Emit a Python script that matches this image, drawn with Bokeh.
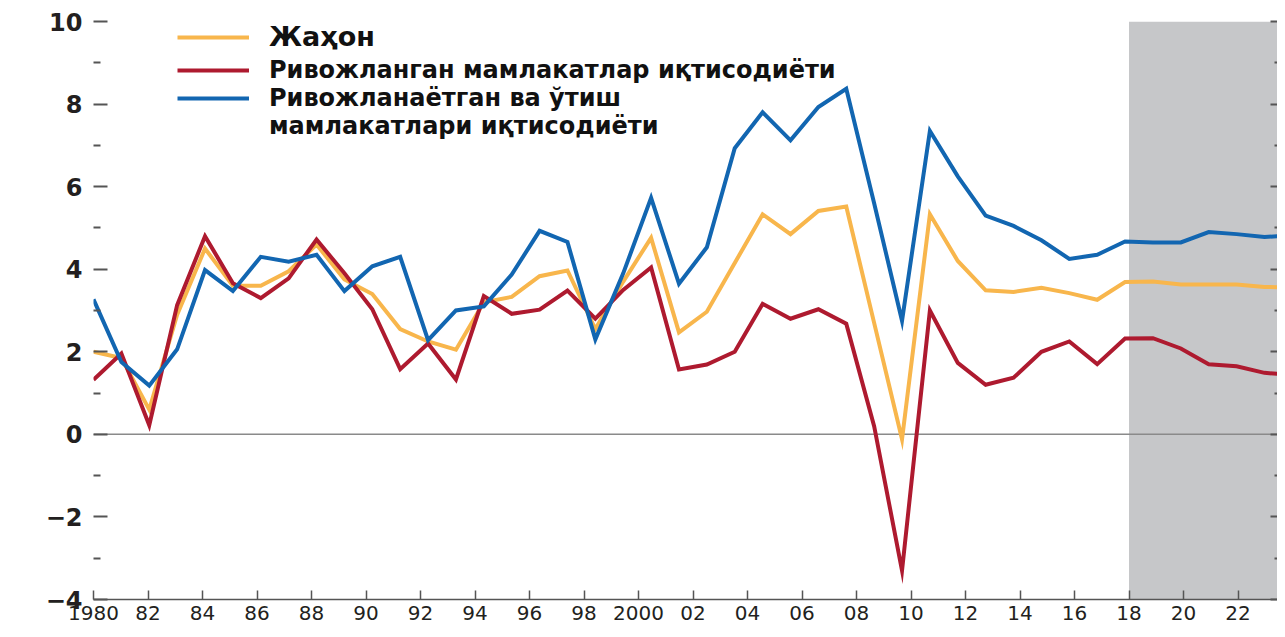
from bokeh.plotting import figure
from bokeh.models import (Range1d, LinearAxis, FixedTicker, Span, BoxAnnotation,
                          Legend, LegendItem, ColumnDataSource)
from bokeh.embed import file_html
from bokeh.resources import INLINE

# ---------------- data ----------------
years = list(range(1980, 2024))

world = [2.0, 1.85, 0.6, 2.9, 4.5, 3.6, 3.6, 3.95, 4.6, 3.75,
         3.4, 2.55, 2.25, 2.05, 3.2, 3.33, 3.83, 3.97, 2.55, 3.7,
         4.76, 2.47, 2.97, 4.15, 5.33, 4.85, 5.41, 5.52, 2.7, -0.12,
         5.33, 4.2, 3.49, 3.45, 3.55, 3.42, 3.26, 3.69, 3.7, 3.63,
         3.63, 3.63, 3.57, 3.56]

advanced = [1.32, 1.96, 0.22, 3.13, 4.8, 3.66, 3.3, 3.78, 4.72, 3.9,
            3.03, 1.58, 2.2, 1.33, 3.35, 2.92, 3.02, 3.48, 2.8, 3.5,
            4.04, 1.57, 1.69, 2.0, 3.16, 2.8, 3.03, 2.68, 0.2, -3.3,
            3.0, 1.73, 1.2, 1.37, 2.0, 2.25, 1.7, 2.32, 2.33, 2.08,
            1.7, 1.65, 1.49, 1.44]

emerging = [3.27, 1.75, 1.18, 2.06, 3.98, 3.47, 4.3, 4.18, 4.35, 3.47,
            4.07, 4.3, 2.28, 3.0, 3.1, 3.87, 4.93, 4.66, 2.3, 3.9,
            5.73, 3.65, 4.53, 6.93, 7.8, 7.12, 7.93, 8.37, 5.6, 2.75,
            7.35, 6.25, 5.3, 5.05, 4.7, 4.25, 4.35, 4.67, 4.65, 4.65,
            4.9, 4.85, 4.78, 4.82]

tick_years = list(range(1980, 2023, 2))
tick_labels = ["1980", "82", "84", "86", "88", "90", "92", "94", "96", "98",
               "2000", "02", "04", "06", "08", "10", "12", "14", "16", "18",
               "20", "22"]
y_ticks = [-4, -2, 0, 2, 4, 6, 8, 10]
y_tick_labels = ["\u22124", "\u22122", "0", "2", "4", "6", "8", "10"]
y_minor_ticks = [-3, -1, 1, 3, 5, 7, 9]
forecast_start = 2018

series_names = ["Жаҳон",
                "Ривожланган мамлакатлар иқтисодиёти",
                "Ривожланаётган ва ўтиш",
                "мамлакатлари иқтисодиёти"]
series_colors = ["#f8b64c", "#ae1a2f", "#1266b1"]

FONT = "DejaVu Sans"

# ---------------- layout ----------------
W, H = 1277, 629
LEFT, TOP, BOTTOM = 93, 21, 30
frame_w = W - LEFT
data_px_per_year = 27.88   # spacing of plotted points
axis_px_per_year = 27.25   # spacing of axis ticks

p = figure(width=W, height=H, output_backend="svg", toolbar_location=None,
           x_range=Range1d(1980, 1980 + frame_w / data_px_per_year),
           y_range=Range1d(-4, 10),
           x_axis_type=None, y_axis_type=None,
           min_border_left=LEFT, min_border_top=TOP, min_border_right=0,
           min_border_bottom=BOTTOM)
p.extra_x_ranges = {"axis": Range1d(1980, 1980 + frame_w / axis_px_per_year)}
p.outline_line_color = None
p.background_fill_color = "white"
p.border_fill_color = "white"

# forecast shading and zero line
p.add_layout(BoxAnnotation(left=forecast_start, x_range_name="axis",
                           fill_color="#c6c7c9", fill_alpha=1.0,
                           line_color=None, level="underlay"))
p.add_layout(Span(location=0, dimension="width", line_color="#8a8a8a",
                  line_width=1.5, level="underlay"))

src = ColumnDataSource(dict(year=years, world=world, adv=advanced, emd=emerging))
r_world = p.line("year", "world", source=src, line_color=series_colors[0],
                 line_width=4, line_join="miter")
r_adv = p.line("year", "adv", source=src, line_color=series_colors[1],
               line_width=4, line_join="miter")
r_emd = p.line("year", "emd", source=src, line_color=series_colors[2],
               line_width=4, line_join="miter")

# ---------------- axes ----------------
yax = LinearAxis(ticker=FixedTicker(ticks=y_ticks, minor_ticks=y_minor_ticks))
yax.major_label_overrides = {t: l for t, l in zip(y_ticks, y_tick_labels)}
yax.axis_line_color = None
yax.major_tick_in = 14
yax.major_tick_out = 0
yax.minor_tick_in = 7
yax.minor_tick_out = 0
yax.major_tick_line_color = "#555555"
yax.minor_tick_line_color = "#555555"
yax.major_tick_line_width = 2
yax.minor_tick_line_width = 2
yax.major_label_standoff = 11
yax.major_label_text_font = FONT
yax.major_label_text_font_style = "bold"
yax.major_label_text_font_size = "24px"
yax.major_label_text_color = "#231f20"
p.add_layout(yax, "left")

ryax = LinearAxis(ticker=FixedTicker(ticks=y_ticks, minor_ticks=y_minor_ticks))
ryax.major_label_overrides = {t: "" for t in y_ticks}
ryax.axis_line_color = None
ryax.major_tick_in = 7
ryax.major_tick_out = 0
ryax.minor_tick_in = 3
ryax.minor_tick_out = 0
ryax.major_tick_line_color = "#555555"
ryax.minor_tick_line_color = "#555555"
ryax.major_tick_line_width = 2
ryax.minor_tick_line_width = 2
ryax.major_label_standoff = 0
p.add_layout(ryax, "right")

xax = LinearAxis(x_range_name="axis", ticker=FixedTicker(ticks=tick_years, minor_ticks=[]))
xax.major_label_overrides = {t: l for t, l in zip(tick_years, tick_labels)}
xax.axis_line_color = "#555555"
xax.axis_line_width = 1.5
xax.major_tick_in = 9
xax.major_tick_out = 0
xax.major_tick_line_color = "#555555"
xax.major_tick_line_width = 1.5
xax.major_label_standoff = 6
xax.major_label_text_font = FONT
xax.major_label_text_font_size = "20px"
xax.major_label_text_color = "#231f20"
p.add_layout(xax, "below")

# ---------------- legends ----------------
frame_h = H - TOP - BOTTOM
leg1 = Legend(items=[LegendItem(label=series_names[0], renderers=[r_world])],
              location=(84, frame_h - 31), padding=0, margin=0, spacing=0,
              glyph_width=72, glyph_height=28, label_height=28,
              label_standoff=20, border_line_color=None,
              background_fill_alpha=0.0)
leg1.label_text_font = FONT
leg1.label_text_font_style = "bold"
leg1.label_text_font_size = "27px"
leg1.label_text_color = "#111111"
p.add_layout(leg1, "center")

leg2 = Legend(items=[LegendItem(label=series_names[1], renderers=[r_adv]),
                     LegendItem(label=series_names[2], renderers=[r_emd]),
                     LegendItem(label=series_names[3], renderers=[])],
              location=(84, frame_h - 119), padding=0, margin=0, spacing=0,
              glyph_width=72, glyph_height=22, label_height=24,
              label_standoff=20, border_line_color=None,
              background_fill_alpha=0.0)
leg2.label_text_font = FONT
leg2.label_text_font_style = "bold"
leg2.label_text_font_size = "24px"
leg2.label_text_color = "#111111"
p.add_layout(leg2, "center")

open("out.html", "w").write(file_html(p, INLINE))
